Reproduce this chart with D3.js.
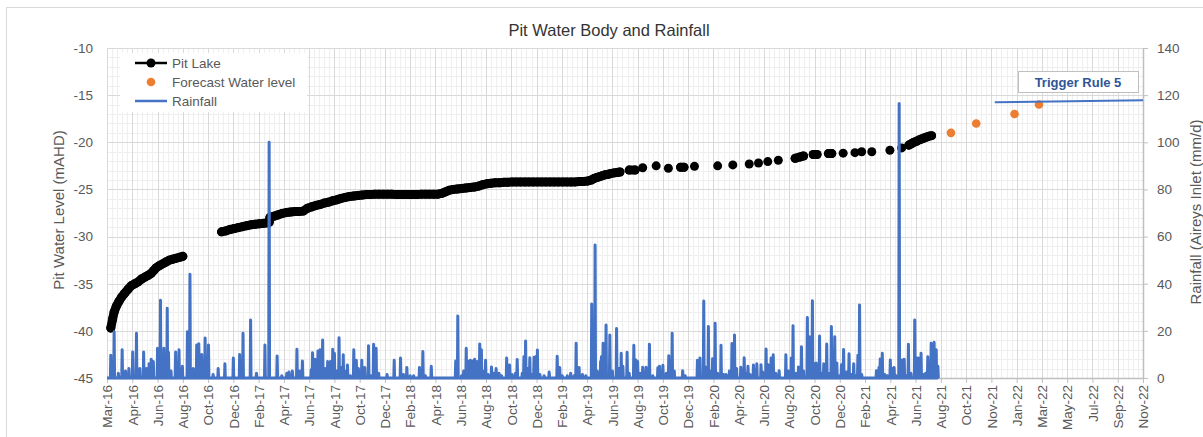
<!DOCTYPE html>
<html><head><meta charset="utf-8">
<script src="https://cdn.jsdelivr.net/npm/d3@7"></script>
<style>
html,body{margin:0;padding:0;background:#fff;}
svg{display:block;font-family:"Liberation Sans",Arial,sans-serif;}
</style></head><body>
<svg id="chart" width="1203" height="437"></svg>
<script>
// ---------------- DATA ----------------
const chartTitle = "Pit Water Body and Rainfall";
const leftTitle = "Pit Water Level (mAHD)";
const rightTitle = "Rainfall (Aireys Inlet (mm/d)";
const annotationText = "Trigger Rule 5";
const legendLabels = ["Pit Lake", "Forecast Water level", "Rainfall"];

const xStart = "2016-03-01";
const xTickLabels = ["Mar-16","Apr-16","Jun-16","Aug-16","Oct-16","Dec-16","Feb-17","Apr-17","Jun-17","Aug-17","Oct-17","Dec-17",
  "Feb-18","Apr-18","Jun-18","Aug-18","Oct-18","Dec-18","Feb-19","Apr-19","Jun-19","Aug-19","Oct-19","Dec-19",
  "Feb-20","Apr-20","Jun-20","Aug-20","Oct-20","Dec-20","Feb-21","Apr-21","Jun-21","Aug-21","Oct-21","Nov-21",
  "Jan-22","Mar-22","May-22","Jul-22","Sep-22","Nov-22"];
const xTickStepDays = 60;
const levelTicks = [-10,-15,-20,-25,-30,-35,-40,-45];
const rainTicks = [140,120,100,80,60,40,20,0];

// Pit Lake water level (mAHD)
const pitLake = [
["2016-03-10",-39.7],["2016-03-14",-38.8],["2016-03-18",-38.0],["2016-03-23",-37.4],["2016-03-29",-36.9],["2016-04-05",-36.4],
["2016-04-12",-36.0],["2016-04-20",-35.6],["2016-04-28",-35.2],["2016-05-06",-35.0],["2016-05-14",-34.8],["2016-05-22",-34.5],
["2016-05-30",-34.3],["2016-06-07",-34.1],["2016-06-14",-33.9],["2016-06-20",-33.6],["2016-06-26",-33.3],["2016-07-03",-33.1],
["2016-07-11",-32.9],["2016-07-19",-32.7],["2016-07-27",-32.5],["2016-08-04",-32.4],["2016-08-12",-32.3],["2016-08-20",-32.2],
["2016-08-28",-32.1],
["2016-11-28",-29.5],["2016-12-08",-29.4],["2016-12-18",-29.25],["2016-12-28",-29.15],["2017-01-07",-29.05],["2017-01-17",-28.95],
["2017-01-27",-28.85],["2017-02-06",-28.75],["2017-02-16",-28.7],["2017-02-26",-28.65],["2017-03-08",-28.6],["2017-03-16",-28.55],
["2017-03-21",-28.5],["2017-03-22",-28.2],["2017-03-23",-27.95],["2017-04-01",-27.85],["2017-04-11",-27.7],["2017-04-21",-27.55],
["2017-05-01",-27.45],["2017-05-11",-27.4],["2017-05-21",-27.35],["2017-05-31",-27.35],["2017-06-10",-27.3],["2017-06-20",-27.0],
["2017-06-30",-26.85],["2017-07-10",-26.7],["2017-07-20",-26.6],["2017-07-30",-26.45],["2017-08-09",-26.35],["2017-08-19",-26.2],
["2017-08-29",-26.1],["2017-09-08",-25.95],["2017-09-18",-25.85],["2017-09-28",-25.75],["2017-10-08",-25.7],["2017-10-18",-25.65],
["2017-10-28",-25.6],["2017-11-07",-25.55],["2017-11-17",-25.55],["2017-11-27",-25.5],["2017-12-07",-25.5],["2017-12-17",-25.5],
["2017-12-27",-25.5],["2018-01-06",-25.5],["2018-01-16",-25.55],["2018-01-26",-25.55],["2018-02-05",-25.55],["2018-02-15",-25.55],
["2018-02-25",-25.55],["2018-03-07",-25.55],["2018-03-17",-25.5],["2018-03-27",-25.5],["2018-04-06",-25.5],["2018-04-16",-25.5],
["2018-04-26",-25.5],["2018-05-06",-25.4],["2018-05-14",-25.25],["2018-05-22",-25.1],["2018-06-01",-25.0],["2018-06-11",-24.95],
["2018-06-21",-24.9],["2018-07-01",-24.85],["2018-07-11",-24.8],["2018-07-21",-24.75],["2018-07-31",-24.65],["2018-08-10",-24.5],
["2018-08-20",-24.4],["2018-08-30",-24.35],["2018-09-09",-24.3],["2018-09-19",-24.3],["2018-09-29",-24.25],["2018-10-09",-24.25],
["2018-10-19",-24.2],["2018-10-29",-24.2],["2018-11-08",-24.2],["2018-11-18",-24.2],["2018-11-28",-24.2],["2018-12-08",-24.2],
["2018-12-18",-24.2],["2018-12-28",-24.2],["2019-01-07",-24.2],["2019-01-17",-24.2],["2019-01-27",-24.2],["2019-02-06",-24.2],
["2019-02-16",-24.2],["2019-02-26",-24.2],["2019-03-08",-24.2],["2019-03-18",-24.2],["2019-03-28",-24.15],["2019-04-07",-24.15],
["2019-04-17",-24.1],["2019-04-25",-24.0],["2019-05-01",-23.85],["2019-05-07",-23.75],["2019-05-14",-23.65],["2019-05-21",-23.55],
["2019-05-28",-23.45],["2019-06-04",-23.4],["2019-06-11",-23.3],["2019-06-18",-23.25],["2019-06-25",-23.2],["2019-07-02",-23.15],
["2019-07-24",-22.95],["2019-08-07",-22.95],["2019-08-25",-22.7],["2019-09-26",-22.5],["2019-10-25",-22.75],["2019-11-23",-22.65],
["2019-12-01",-22.65],["2019-12-26",-22.55],["2020-02-19",-22.5],["2020-03-26",-22.4],["2020-05-04",-22.3],["2020-05-26",-22.2],
["2020-06-17",-22.05],["2020-07-12",-21.9],["2020-08-21",-21.7],["2020-09-02",-21.55],["2020-09-10",-21.45],["2020-10-03",-21.3],
["2020-10-12",-21.3],["2020-11-08",-21.2],["2020-11-16",-21.2],["2020-12-13",-21.15],["2021-01-10",-21.1],["2021-01-26",-21.0],
["2021-02-19",-21.0],["2021-04-03",-20.85],["2021-05-01",-20.6],["2021-05-18",-20.3],["2021-05-24",-20.15],["2021-05-30",-20.0],
["2021-06-05",-19.9],["2021-06-11",-19.75],["2021-06-17",-19.65],["2021-06-23",-19.55],["2021-06-29",-19.45],["2021-07-05",-19.35],
["2021-07-11",-19.3]
];

// Forecast water level (mAHD)
const forecastLevel = [["2021-08-26",-19.0],["2021-10-25",-18.0],["2022-01-24",-17.0],["2022-03-23",-16.0]];

// Trigger Rule 5 line (mAHD)
const triggerLine = [["2021-12-08",-15.75],["2022-11-25",-15.55]];

// Daily rainfall, Aireys Inlet (mm/d): rain days listed, all other days in the record are dry (0)
const rainEnd = "2021-07-27";
const rainfall = [
["2016-03-10",9.7],["2016-03-18",19.6],["2016-03-28",2],["2016-04-06",12],["2016-04-14",3],["2016-04-22",4],["2016-05-01",11],
["2016-05-10",19],["2016-05-18",4],["2016-05-27",11],["2016-06-03",4],["2016-06-09",6],["2016-06-14",8],["2016-06-19",7],
["2016-06-29",12.6],["2016-07-06",33],["2016-07-14",12.6],["2016-07-22",29.6],["2016-07-25",10.9],["2016-07-31",3],["2016-08-11",11],
["2016-08-19",12],["2016-08-27",5],["2016-09-08",19.6],["2016-09-14",44],["2016-09-22",4],["2016-09-30",14],["2016-10-05",14.5],
["2016-10-12",10],["2016-10-20",17],["2016-10-28",14],["2016-11-08",1.5],["2016-11-20",4],["2016-12-06",6],["2016-12-26",8.5],
["2017-01-10",10],["2017-01-18",19],["2017-02-05",24.6],["2017-02-19",2],["2017-03-11",14],["2017-03-21",100],["2017-04-09",9.3],
["2017-04-20",1],["2017-05-02",2],["2017-05-07",2.5],["2017-05-15",3],["2017-05-26",12.2],["2017-06-02",3],["2017-06-08",7.2],
["2017-06-29",3.5],["2017-07-02",10.7],["2017-07-08",8],["2017-07-15",11.5],["2017-07-20",12],["2017-07-26",16.1],["2017-08-01",4],
["2017-08-07",7],["2017-08-14",7],["2017-08-19",12.2],["2017-08-23",10.5],["2017-08-29",3],["2017-09-03",17.1],["2017-09-09",4.5],
["2017-09-13",9.9],["2017-09-17",3],["2017-09-23",5.5],["2017-09-30",1],["2017-10-08",12],["2017-10-14",7.5],["2017-10-19",4],
["2017-10-27",7.5],["2017-11-03",4.5],["2017-11-12",13.7],["2017-11-18",1],["2017-11-24",14.3],["2017-11-30",12.6],["2017-12-06",2],
["2017-12-26",1.5],["2018-01-12",7.5],["2018-01-27",8.5],["2018-02-03",1.5],["2018-02-11",4.5],["2018-02-19",1],["2018-02-27",1],
["2018-03-13",4.5],["2018-03-21",11.2],["2018-03-27",1],["2018-04-10",5],["2018-06-07",7.2],["2018-06-12",26.3],["2018-06-21",1],
["2018-06-26",3],["2018-07-02",12.6],["2018-07-06",7.2],["2018-07-12",7.5],["2018-07-17",7.2],["2018-07-22",8],["2018-07-28",7],
["2018-08-03",14.4],["2018-08-07",12],["2018-08-11",3],["2018-08-17",7.5],["2018-08-23",1.5],["2018-08-31",4.7],["2018-09-06",2],
["2018-09-11",4],["2018-09-18",2],["2018-09-24",1],["2018-10-06",8.5],["2018-10-13",5.5],["2018-10-19",1.5],["2018-10-27",2],
["2018-10-31",7.9],["2018-11-12",2],["2018-11-16",9],["2018-11-20",15.7],["2018-11-25",4],["2018-11-30",8.6],["2018-12-04",1.5],
["2018-12-10",8.8],["2018-12-14",9],["2018-12-18",11.9],["2018-12-24",1.5],["2019-01-03",1],["2019-01-15",2.5],["2019-02-03",9.2],
["2019-02-09",4.5],["2019-02-15",1],["2019-02-27",1],["2019-03-07",2],["2019-03-15",1],["2019-03-20",14.7],["2019-03-27",4.5],
["2019-04-04",1.5],["2019-04-12",1],["2019-04-26",31.4],["2019-05-04",56.4],["2019-05-09",3],["2019-05-17",7],["2019-05-19",9],
["2019-05-23",14.7],["2019-05-30",22.5],["2019-06-08",18.2],["2019-06-14",3],["2019-06-24",21],["2019-06-30",4],["2019-07-05",10.5],
["2019-07-09",5],["2019-07-19",10.9],["2019-07-24",2],["2019-08-04",13.9],["2019-08-09",7.6],["2019-08-13",7],["2019-08-19",2],
["2019-08-25",4.6],["2019-09-02",4.6],["2019-09-10",14.3],["2019-09-18",1],["2019-09-30",4.3],["2019-10-04",5],["2019-10-12",5.4],
["2019-10-20",2],["2019-10-26",9.4],["2019-11-03",19],["2019-11-08",3],["2019-11-28",3.1],["2019-12-04",1],["2020-01-02",7.5],
["2020-01-08",8.5],["2020-01-17",32.7],["2020-01-22",4.6],["2020-01-28",21.9],["2020-02-01",3],["2020-02-07",8.2],["2020-02-13",23.2],
["2020-02-19",2],["2020-02-27",13.9],["2020-03-04",1.5],["2020-03-10",1.5],["2020-03-18",3],["2020-03-24",14.6],["2020-03-30",18.2],
["2020-04-04",4],["2020-04-14",4.6],["2020-04-22",8.6],["2020-04-26",2],["2020-05-01",5],["2020-05-06",1.5],["2020-05-14",5.5],
["2020-05-22",6],["2020-06-01",5.6],["2020-06-05",2.5],["2020-06-13",12.3],["2020-06-18",5.6],["2020-06-25",8.5],["2020-06-30",9.9],
["2020-07-06",2],["2020-07-14",3.1],["2020-07-30",9.9],["2020-08-05",3],["2020-08-12",8.5],["2020-08-16",22.2],["2020-08-22",2],
["2020-08-29",4.7],["2020-09-05",13.3],["2020-09-10",3],["2020-09-19",25.7],["2020-09-24",17.5],["2020-10-01",32.8],["2020-10-06",6],
["2020-10-10",6.4],["2020-10-18",17.8],["2020-10-23",2],["2020-10-28",6],["2020-11-04",14.4],["2020-11-11",2],["2020-11-15",21.8],
["2020-11-23",17.5],["2020-11-28",6.4],["2020-12-05",1],["2020-12-09",5.6],["2020-12-14",12.1],["2020-12-21",2.5],["2020-12-27",10.3],
["2021-01-01",1.5],["2021-01-07",6],["2021-01-12",1],["2021-01-17",9.6],["2021-01-21",31],["2021-01-26",1.5],["2021-03-02",3.1],
["2021-03-08",4.5],["2021-03-11",8.1],["2021-03-16",10.5],["2021-03-22",1.5],["2021-03-28",1],["2021-04-04",7.6],["2021-04-09",4],
["2021-04-13",4.5],["2021-04-18",1],["2021-04-25",116.5],["2021-05-02",7.6],["2021-05-07",8],["2021-05-12",1],["2021-05-17",14.3],
["2021-05-23",2],["2021-06-01",24.6],["2021-06-05",8.6],["2021-06-10",8.5],["2021-06-16",10.5],["2021-06-22",1.5],["2021-06-27",2],
["2021-07-02",9],["2021-07-10",14.7],["2021-07-17",15.2],["2021-07-22",12],["2021-07-26",5]
];

// ---------------- DRAW ----------------
const parse = d3.utcParse("%Y-%m-%d");
const svg = d3.select("#chart");
const M = {left:107, right:1143, top:48, bottom:378};
const t0 = parse(xStart);
const tickDates = xTickLabels.map((_, i) => d3.utcDay.offset(t0, i * xTickStepDays));
const x = d3.scaleUtc().domain([t0, tickDates[tickDates.length-1]]).range([M.left, M.right]);
const yL = d3.scaleLinear().domain([-45, -10]).range([M.bottom, M.top]);
const yR = d3.scaleLinear().domain([0, 140]).range([M.bottom, M.top]);

// chart border
svg.append("rect").attr("x",6.5).attr("y",7.5).attr("width",1300).attr("height",600)
  .attr("fill","#fff").attr("stroke","#d9d9d9").attr("stroke-width",1);

// minor grid
const gMinor = svg.append("g");
const minorV = d3.utcDay.range(t0, d3.utcDay.offset(x.domain()[1], 1), 12);
gMinor.selectAll("line.mv").data(minorV).join("line")
  .attr("x1", d => Math.round(x(d)) + 0.5).attr("x2", d => Math.round(x(d)) + 0.5)
  .attr("y1", M.top).attr("y2", M.bottom).attr("stroke", "#efefef");
gMinor.selectAll("line.mh").data(d3.range(-45, -9, 1)).join("line")
  .attr("x1", M.left).attr("x2", M.right)
  .attr("y1", d => Math.round(yL(d)) + 0.5).attr("y2", d => Math.round(yL(d)) + 0.5).attr("stroke", "#efefef");
// major grid
const gMajor = svg.append("g");
gMajor.selectAll("line.v").data(tickDates).join("line")
  .attr("x1", d => Math.round(x(d)) + 0.5).attr("x2", d => Math.round(x(d)) + 0.5)
  .attr("y1", M.top).attr("y2", M.bottom).attr("stroke", "#d9d9d9");
gMajor.selectAll("line.h").data(levelTicks).join("line")
  .attr("x1", M.left).attr("x2", M.right)
  .attr("y1", d => Math.round(yL(d)) + 0.5).attr("y2", d => Math.round(yL(d)) + 0.5).attr("stroke", "#d9d9d9");

// axes
const axisColor = "#595959";
const gL = svg.append("g").attr("transform", `translate(${M.left},0)`)
  .call(d3.axisLeft(yL).tickValues(levelTicks).tickFormat(d => String(d)).tickSize(0).tickPadding(14));
gL.select(".domain").remove();
const gR = svg.append("g").attr("transform", `translate(${M.right},0)`)
  .call(d3.axisRight(yR).tickValues(rainTicks).tickFormat(d => String(d)).tickSize(5).tickSizeOuter(0).tickPadding(9));
gR.select(".domain").attr("stroke", "#bfbfbf").attr("stroke-width", 1.5);
gR.selectAll(".tick line").attr("stroke", "#bfbfbf");
const gB = svg.append("g").attr("transform", `translate(0,${M.bottom})`)
  .call(d3.axisBottom(x).tickValues(tickDates).tickFormat((d, i) => xTickLabels[i]).tickSize(5).tickSizeOuter(0));
gB.select(".domain").attr("stroke", "#bfbfbf").attr("stroke-width", 1.5);
gB.selectAll(".tick line").attr("stroke", "#bfbfbf");
gB.selectAll(".tick text").attr("transform", "rotate(-90)").attr("x", -7).attr("y", 0)
  .attr("dy", "0.35em").style("text-anchor", "end");
[gL, gR, gB].forEach(g => g.selectAll("text").attr("fill", axisColor)
  .style("font-size", "13.5px").style("font-family", '"Liberation Sans",Arial,sans-serif'));

// Pit lake: dense runs shown as continuous markers
const pit = pitLake.map(d => ({date: parse(d[0]), v: d[1]}));
const segs = [];
pit.forEach((p, i) => {
  if (i === 0 || (p.date - pit[i-1].date) / 864e5 > 15) segs.push([]);
  segs[segs.length-1].push(p);
});
const lineL = d3.line().x(d => x(d.date)).y(d => yL(d.v));
svg.append("g").selectAll("path").data(segs.filter(s => s.length > 1)).join("path")
  .attr("d", lineL).attr("fill", "none").attr("stroke", "#000").attr("stroke-width", 9)
  .attr("stroke-linecap", "round").attr("stroke-linejoin", "round");
svg.append("g").selectAll("circle").data(pit).join("circle")
  .attr("cx", d => x(d.date)).attr("cy", d => yL(d.v)).attr("r", 4.5).attr("fill", "#000");

// forecast
svg.append("g").selectAll("circle").data(forecastLevel).join("circle")
  .attr("cx", d => x(parse(d[0]))).attr("cy", d => yL(d[1])).attr("r", 4.3).attr("fill", "#ED7D31");

// rainfall (daily line)
const rainMap = new Map(rainfall.map(d => [d[0], d[1]]));
const fmt = d3.utcFormat("%Y-%m-%d");
const rainDaily = d3.utcDay.range(t0, d3.utcDay.offset(parse(rainEnd), 1))
  .map(d => ({date: d, v: rainMap.get(fmt(d)) || 0}));
svg.append("path").datum(rainDaily)
  .attr("d", d3.line().x(d => x(d.date)).y(d => yR(d.v)))
  .attr("fill", "none").attr("stroke", "#4472C4").attr("stroke-width", 3).attr("stroke-linejoin", "round");

// trigger line
svg.append("path").datum(triggerLine)
  .attr("d", d3.line().x(d => x(parse(d[0]))).y(d => yL(d[1])))
  .attr("fill", "none").attr("stroke", "#4472C4").attr("stroke-width", 2);

// annotation box
svg.append("rect").attr("x", 1018.5).attr("y", 71.5).attr("width", 120).attr("height", 21)
  .attr("fill", "#fff").attr("stroke", "#bfbfbf");
svg.append("text").attr("x", 1078).attr("y", 86.5).attr("text-anchor", "middle")
  .attr("fill", "#2F5597").style("font-size", "13px").style("font-weight", "bold").text(annotationText);

// titles
svg.append("text").attr("x", 609).attr("y", 36).attr("text-anchor", "middle")
  .attr("fill", "#333").style("font-size", "16.5px").text(chartTitle);
svg.append("text").attr("transform", "translate(64,210) rotate(-90)").attr("text-anchor", "middle")
  .attr("fill", axisColor).style("font-size", "15px").text(leftTitle);
svg.append("text").attr("transform", "translate(1201,212) rotate(-90)").attr("text-anchor", "middle")
  .attr("fill", axisColor).style("font-size", "15px").text(rightTitle);

// legend
const lg = svg.append("g");
lg.append("rect").attr("x", 120).attr("y", 53).attr("width", 187).attr("height", 59).attr("fill", "#fff");
const legY = [63, 82, 101];
lg.append("line").attr("x1", 135).attr("x2", 167).attr("y1", legY[0]).attr("y2", legY[0]).attr("stroke", "#000").attr("stroke-width", 2.5);
lg.append("circle").attr("cx", 151).attr("cy", legY[0]).attr("r", 4.5).attr("fill", "#000");
lg.append("circle").attr("cx", 151).attr("cy", legY[1]).attr("r", 4.3).attr("fill", "#ED7D31");
lg.append("line").attr("x1", 135).attr("x2", 167).attr("y1", legY[2]).attr("y2", legY[2]).attr("stroke", "#4472C4").attr("stroke-width", 2.5);
lg.selectAll("text").data(legendLabels).join("text")
  .attr("x", 172).attr("y", (d, i) => legY[i] + 5).attr("fill", axisColor)
  .style("font-size", "13.5px").text(d => d);
</script>
</body></html>
